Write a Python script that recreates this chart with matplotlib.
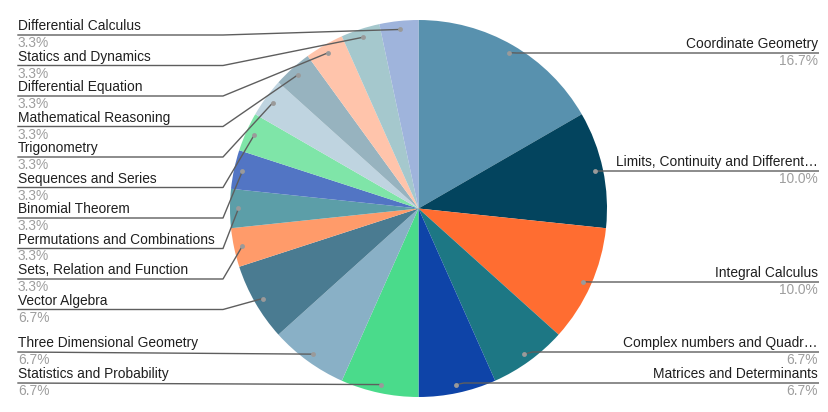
import matplotlib
matplotlib.use("Agg")
import matplotlib.pyplot as plt
import numpy as np

plt.rcParams['font.family'] = ['Liberation Sans', 'DejaVu Sans']

categories = [
    "Coordinate Geometry",
    "Limits, Continuity and Different…",
    "Integral Calculus",
    "Complex numbers and Quadr…",
    "Matrices and Determinants",
    "Statistics and Probability",
    "Three Dimensional Geometry",
    "Vector Algebra",
    "Sets, Relation and Function",
    "Permutations and Combinations",
    "Binomial Theorem",
    "Sequences and Series",
    "Trigonometry",
    "Mathematical Reasoning",
    "Differential Equation",
    "Statics and Dynamics",
    "Differential Calculus",
]
counts = [5, 3, 3, 2, 2, 2, 2, 2, 1, 1, 1, 1, 1, 1, 1, 1, 1]
colors = [
    "#5891ae", "#03445e", "#ff6d31", "#1d7784", "#0e44a8", "#4adb8b",
    "#89b0c6", "#4a7b91", "#ff9b6a", "#5c9ea8", "#5275c4", "#7fe5a8",
    "#bfd4e0", "#97b3bf", "#ffc4ab", "#a5c8cd", "#9fb4dc",
]

W, H = 829, 412
fig = plt.figure(figsize=(W / 100, H / 100), dpi=100)
ax = fig.add_axes([0, 0, 1, 1])

cx, cy_pix, R = 418.5, 208.5, 188.5
cy = H - cy_pix

wedges, _ = ax.pie(counts, colors=colors, startangle=90, counterclock=False,
                   center=(cx, cy), radius=R, wedgeprops=dict(linewidth=0))
ax.set_xlim(0, W)
ax.set_ylim(0, H)
ax.set_aspect('equal')
ax.axis('off')

total = sum(counts)
pcts = [f"{100 * c / total:.1f}%" for c in counts]

# Label layout (pixel rows, top-origin)
right_rows = {0: 44, 1: 162, 2: 273, 3: 343, 4: 374}
left_rows = {16: 26, 15: 56.5, 14: 87, 13: 117.5, 12: 148, 11: 178.5,
             10: 209, 9: 239.5, 8: 270, 7: 300.5, 6: 343, 5: 374}

fs = 9.9
lc = "#5e5e5e"
for i, w in enumerate(wedges):
    ang = np.deg2rad((w.theta1 + w.theta2) / 2)
    dx = cx + 0.955 * R * np.cos(ang)
    dy = cy + 0.955 * R * np.sin(ang)
    if i in right_rows:
        ty = right_rows[i]
        uy = H - (ty + 9)
        ax.text(818, H - ty, categories[i], ha='right', va='center',
                fontsize=fs, color='#1f1f1f')
        ax.text(818, H - (ty + 17), pcts[i], ha='right', va='center',
                fontsize=fs, color='#9e9e9e')
        ax.plot([dx, dx + 8, 819], [dy, uy, uy], color=lc, lw=1,
                solid_capstyle='butt', zorder=3)
    else:
        ty = left_rows[i]
        uy = H - (ty + 9)
        ax.text(18, H - ty, categories[i], ha='left', va='center',
                fontsize=fs, color='#1f1f1f')
        ax.text(18, H - (ty + 17), pcts[i], ha='left', va='center',
                fontsize=fs, color='#9e9e9e')
        if i in (5, 6):
            ax.plot([18, dx], [uy, dy], color=lc, lw=1, zorder=3)
        else:
            ax.plot([18, 223, dx], [uy, uy, dy], color=lc, lw=1, zorder=3)
    ax.plot([dx], [dy], 'o', ms=3.5, color='#9a9a9a', mec='none', zorder=4)

fig.savefig("out.png", dpi=100)
